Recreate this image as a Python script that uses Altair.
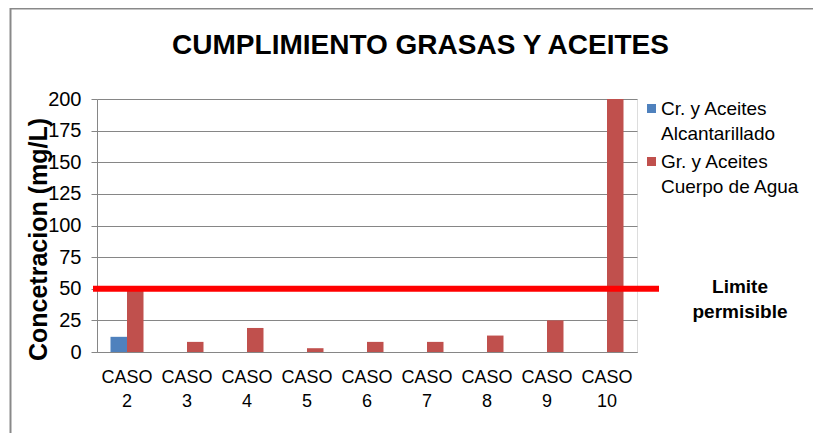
import altair as alt
import pandas as pd

casos = ["CASO 2", "CASO 3", "CASO 4", "CASO 5", "CASO 6",
         "CASO 7", "CASO 8", "CASO 9", "CASO 10"]
alcantarillado = [12, 0, 0, 0, 0, 0, 0, 0, 0]
cuerpo_agua = [50, 8, 19, 3, 8, 8, 13, 25, 200]
series = ["Cr. y Aceites|Alcantarillado", "Gr. y Aceites|Cuerpo de Agua"]
colores = ["#4F81BD", "#C0504D"]
limite = 50
y_ticks = [0, 25, 50, 75, 100, 125, 150, 175, 200]
titulo = "CUMPLIMIENTO GRASAS Y ACEITES"
titulo_y = "Concetracion (mg/L)"
etiqueta_limite = ["Limite", "permisible"]

rows = []
for c, a, b in zip(casos, alcantarillado, cuerpo_agua):
    rows.append({"caso": c, "serie": series[0], "valor": a})
    rows.append({"caso": c, "serie": series[1], "valor": b})
df = pd.DataFrame(rows)

FONT = "Liberation Sans"
GRAY = "#868686"

y_scale = alt.Scale(domain=[0, 200], nice=False)
y_axis = alt.Axis(values=y_ticks, title=titulo_y, titleFont=FONT,
                  titleFontSize=25, titleFontWeight="bold",
                  titleColor="#000", titleAngle=270,
                  titleAlign="center", titleBaseline="middle",
                  titleX=-59, titleY=140,
                  labelFont=FONT, labelFontSize=20, labelColor="#000",
                  labelPadding=10, tickSize=6, tickColor=GRAY,
                  domainColor=GRAY, gridColor=GRAY, gridWidth=1,
                  gridOpacity=1, labelOverlap=False)

bars = alt.Chart(df).mark_bar().encode(
    x=alt.X("caso:N", sort=casos,
            scale=alt.Scale(paddingInner=0.45, paddingOuter=0.225),
            axis=alt.Axis(title=None, labelExpr="split(datum.label, ' ')",
                          labelAngle=0, labelFontSize=18, labelLineHeight=24,
                          labelPadding=16, ticks=False, domainColor=GRAY,
                          domainWidth=1, labelColor="#000", labelFont=FONT,
                          labelBaseline="top")),
    xOffset=alt.XOffset("serie:N", sort=series,
                        scale=alt.Scale(paddingInner=0, paddingOuter=0)),
    y=alt.Y("valor:Q", scale=y_scale, axis=y_axis),
    color=alt.Color("serie:N", sort=series,
                    scale=alt.Scale(domain=series, range=colores),
                    legend=alt.Legend(title=None, orient="none", legendX=545,
                                      legendY=0, padding=0,
                                      labelExpr="split(datum.label, '|')",
                                      labelFont=FONT, labelFontSize=19,
                                      labelColor="#000", labelLimit=300,
                                      labelOffset=0,
                                      symbolType="square", symbolSize=81,
                                      symbolStrokeWidth=0, rowPadding=8)),
)

lim_df = pd.DataFrame({"valor": [limite]})
rule = alt.Chart(lim_df).mark_rule(color="#FF0000", strokeWidth=6).encode(
    y=alt.Y("valor:Q", scale=y_scale, axis=y_axis),
    x=alt.value(-4), x2=alt.value(562))

texto = alt.Chart(lim_df).mark_text(
    text=etiqueta_limite, font=FONT, fontSize=19, fontWeight="bold",
    color="#000", align="center", baseline="middle", lineHeight=25, dy=-2
).encode(y=alt.Y("valor:Q", scale=y_scale, axis=y_axis), x=alt.value(643))

dummy = pd.DataFrame({"k": [0]})
titulo_mark = alt.Chart(dummy).mark_text(
    text=titulo, font=FONT, fontSize=28, fontWeight="bold", color="#000",
    align="center", baseline="alphabetic"
).encode(x=alt.value(323.5), y=alt.value(-45))

borde_top = alt.Chart(dummy).mark_rule(color="#898989", strokeWidth=2).encode(
    x=alt.value(-87), x2=alt.value(716), y=alt.value(-90.5))
borde_left = alt.Chart(dummy).mark_rule(color="#898989", strokeWidth=2).encode(
    x=alt.value(-86.5), y=alt.value(-91), y2=alt.value(334))

chart = alt.layer(borde_top, borde_left, titulo_mark, bars, rule, texto).properties(
    width=540, height=253,
    autosize=alt.AutoSizeParams(type="none"),
    padding={"left": 89, "top": 91, "right": 176, "bottom": 81},
).configure_view(stroke=None).configure(
    background="white",
    style={"guide-label": {"lineHeight": 25}},
)

chart.save("out.html", embed_options={"renderer": "svg", "actions": False})
